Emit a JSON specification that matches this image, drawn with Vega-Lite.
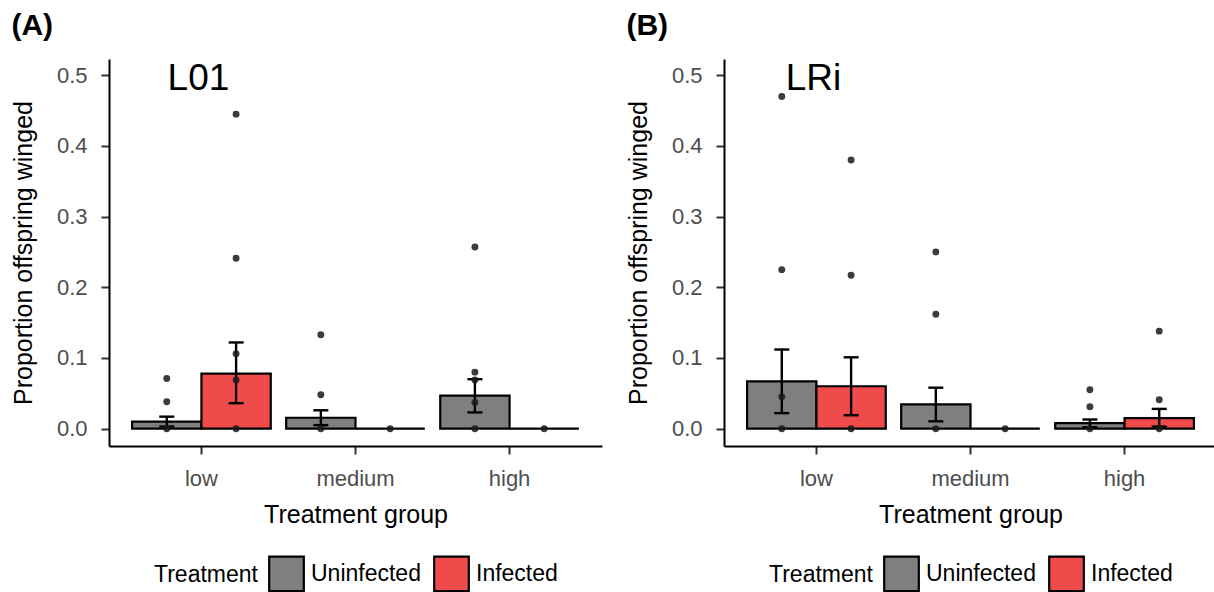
{
  "$schema": "https://vega.github.io/schema/vega-lite/v6.json",
  "padding": {"left": 11, "top": 11, "right": 0, "bottom": 0},
  "background": "white",
  "datasets": {
    "bars": [
      {"panel": "A", "group": "low", "treatment": "Uninfected", "mean": 0.010, "lo": 0.003, "hi": 0.017},
      {"panel": "A", "group": "low", "treatment": "Infected", "mean": 0.078, "lo": 0.036, "hi": 0.122},
      {"panel": "A", "group": "medium", "treatment": "Uninfected", "mean": 0.0155, "lo": 0.005, "hi": 0.026},
      {"panel": "A", "group": "medium", "treatment": "Infected", "mean": 0, "lo": null, "hi": null},
      {"panel": "A", "group": "high", "treatment": "Uninfected", "mean": 0.0467, "lo": 0.023, "hi": 0.070},
      {"panel": "A", "group": "high", "treatment": "Infected", "mean": 0, "lo": null, "hi": null},
      {"panel": "B", "group": "low", "treatment": "Uninfected", "mean": 0.067, "lo": 0.022, "hi": 0.112},
      {"panel": "B", "group": "low", "treatment": "Infected", "mean": 0.060, "lo": 0.019, "hi": 0.101},
      {"panel": "B", "group": "medium", "treatment": "Uninfected", "mean": 0.0345, "lo": 0.0104, "hi": 0.058},
      {"panel": "B", "group": "medium", "treatment": "Infected", "mean": 0, "lo": null, "hi": null},
      {"panel": "B", "group": "high", "treatment": "Uninfected", "mean": 0.008, "lo": 0.002, "hi": 0.013},
      {"panel": "B", "group": "high", "treatment": "Infected", "mean": 0.015, "lo": 0.003, "hi": 0.028}
    ],
    "points": [
      {"panel": "A", "group": "low", "treatment": "Uninfected", "value": 0.071},
      {"panel": "A", "group": "low", "treatment": "Uninfected", "value": 0.038},
      {"panel": "A", "group": "low", "treatment": "Uninfected", "value": 0},
      {"panel": "A", "group": "low", "treatment": "Infected", "value": 0.445},
      {"panel": "A", "group": "low", "treatment": "Infected", "value": 0.241},
      {"panel": "A", "group": "low", "treatment": "Infected", "value": 0.106},
      {"panel": "A", "group": "low", "treatment": "Infected", "value": 0.069},
      {"panel": "A", "group": "low", "treatment": "Infected", "value": 0},
      {"panel": "A", "group": "medium", "treatment": "Uninfected", "value": 0.133},
      {"panel": "A", "group": "medium", "treatment": "Uninfected", "value": 0.048},
      {"panel": "A", "group": "medium", "treatment": "Uninfected", "value": 0},
      {"panel": "A", "group": "medium", "treatment": "Infected", "value": 0},
      {"panel": "A", "group": "high", "treatment": "Uninfected", "value": 0.257},
      {"panel": "A", "group": "high", "treatment": "Uninfected", "value": 0.080},
      {"panel": "A", "group": "high", "treatment": "Uninfected", "value": 0.069},
      {"panel": "A", "group": "high", "treatment": "Uninfected", "value": 0.037},
      {"panel": "A", "group": "high", "treatment": "Uninfected", "value": 0},
      {"panel": "A", "group": "high", "treatment": "Infected", "value": 0},
      {"panel": "B", "group": "low", "treatment": "Uninfected", "value": 0.470},
      {"panel": "B", "group": "low", "treatment": "Uninfected", "value": 0.225},
      {"panel": "B", "group": "low", "treatment": "Uninfected", "value": 0.045},
      {"panel": "B", "group": "low", "treatment": "Uninfected", "value": 0},
      {"panel": "B", "group": "low", "treatment": "Infected", "value": 0.380},
      {"panel": "B", "group": "low", "treatment": "Infected", "value": 0.217},
      {"panel": "B", "group": "low", "treatment": "Infected", "value": 0},
      {"panel": "B", "group": "medium", "treatment": "Uninfected", "value": 0.250},
      {"panel": "B", "group": "medium", "treatment": "Uninfected", "value": 0.162},
      {"panel": "B", "group": "medium", "treatment": "Uninfected", "value": 0},
      {"panel": "B", "group": "medium", "treatment": "Infected", "value": 0},
      {"panel": "B", "group": "high", "treatment": "Uninfected", "value": 0.055},
      {"panel": "B", "group": "high", "treatment": "Uninfected", "value": 0.031},
      {"panel": "B", "group": "high", "treatment": "Uninfected", "value": 0},
      {"panel": "B", "group": "high", "treatment": "Infected", "value": 0.138},
      {"panel": "B", "group": "high", "treatment": "Infected", "value": 0.041},
      {"panel": "B", "group": "high", "treatment": "Infected", "value": 0}
    ],
    "labels": [
      {"panel": "A", "group": "low", "y": 0.479, "label": "L01"},
      {"panel": "B", "group": "low", "y": 0.479, "label": "LRi"}
    ]
  },
  "config": {
    "font": "Liberation Sans",
    "view": {"stroke": null},
    "axis": {
      "grid": false,
      "domainColor": "black",
      "domainWidth": 2,
      "tickColor": "#333333",
      "tickWidth": 2,
      "tickSize": 8,
      "labelColor": "#4d4d4d",
      "labelFontSize": 22,
      "labelFont": "Liberation Sans",
      "titleFont": "Liberation Sans",
      "titleFontSize": 25,
      "titleFontWeight": "normal",
      "titleColor": "black"
    },
    "legend": {
      "layout": {"bottom": {"anchor": "middle"}},
      "labelFont": "Liberation Sans",
      "titleFont": "Liberation Sans"
    },
    "title": {
      "anchor": "start",
      "frame": "bounds",
      "fontSize": 30,
      "fontWeight": "bold",
      "color": "black",
      "offset": 18,
      "font": "Liberation Sans"
    }
  },
  "spacing": 24,
  "resolve": {"scale": {"color": "independent"}, "legend": {"color": "independent"}},
  "hconcat": [
    {
      "title": {"text": "(A)"},
      "width": 493,
      "height": 387,
      "encoding": {
        "x": {"field": "group", "type": "nominal", "sort": ["low", "medium", "high"], "title": "Treatment group",
              "scale": {"paddingInner": 0.1, "paddingOuter": 0.15},
              "axis": {"labelAngle": 0, "labelPadding": 14, "titlePadding": 13}}
      },
      "layer": [
        {
          "data": {"name": "bars"},
          "transform": [{"filter": "datum.panel === 'A'"}],
          "mark": {"type": "bar", "stroke": "black", "strokeWidth": 2.2, "opacity": 1},
          "encoding": {
            "xOffset": {"field": "treatment", "type": "nominal", "sort": ["Uninfected", "Infected"], "scale": {"paddingInner": 0, "paddingOuter": 0}},
            "y": {"field": "mean", "type": "quantitative", "title": "Proportion offspring winged",
                  "scale": {"domain": [-0.0245, 0.523], "nice": false, "zero": false},
                  "axis": {"values": [0, 0.1, 0.2, 0.3, 0.4, 0.5], "format": ".1f", "labelPadding": 14, "titlePadding": 20}},
            "y2": {"datum": 0},
            "color": {"field": "treatment", "type": "nominal",
                      "scale": {"domain": ["Uninfected", "Infected"], "range": ["#7f7f7f", "#f04b4b"]},
                      "legend": {"title": "Treatment", "orient": "bottom", "direction": "horizontal", "titleOrient": "left",
                                 "titleFontSize": 23, "titleFontWeight": "normal", "titleColor": "black", "labelFontSize": 23, "labelColor": "black",
                                 "symbolType": "square", "symbolSize": 1200, "symbolStrokeColor": "black", "symbolStrokeWidth": 2.2, "symbolOpacity": 1,
                                 "labelOffset": 6, "columnPadding": 8, "titlePadding": 10, "offset": 28}}
          }
        },
        {
          "data": {"name": "bars"},
          "transform": [{"filter": "datum.panel === 'A' && datum.hi != null"}],
          "mark": {"type": "rule", "color": "black", "strokeWidth": 2.4},
          "encoding": {"xOffset": {"field": "treatment", "type": "nominal", "sort": ["Uninfected", "Infected"]}, "y": {"field": "lo", "type": "quantitative"}, "y2": {"field": "hi"}}
        },
        {
          "data": {"name": "bars"},
          "transform": [{"filter": "datum.panel === 'A' && datum.hi != null"}],
          "mark": {"type": "tick", "color": "black", "thickness": 2.4, "size": 15, "opacity": 1},
          "encoding": {"xOffset": {"field": "treatment", "type": "nominal", "sort": ["Uninfected", "Infected"]}, "y": {"field": "lo", "type": "quantitative"}}
        },
        {
          "data": {"name": "bars"},
          "transform": [{"filter": "datum.panel === 'A' && datum.hi != null"}],
          "mark": {"type": "tick", "color": "black", "thickness": 2.4, "size": 15, "opacity": 1},
          "encoding": {"xOffset": {"field": "treatment", "type": "nominal", "sort": ["Uninfected", "Infected"]}, "y": {"field": "hi", "type": "quantitative"}}
        },
        {
          "data": {"name": "points"},
          "transform": [{"filter": "datum.panel === 'A'"}],
          "mark": {"type": "circle", "color": "#1a1a1a", "opacity": 0.85, "size": 48},
          "encoding": {"xOffset": {"field": "treatment", "type": "nominal", "sort": ["Uninfected", "Infected"]}, "y": {"field": "value", "type": "quantitative"}}
        },
        {
          "data": {"name": "labels"},
          "transform": [{"filter": "datum.panel === 'A'"}],
          "mark": {"type": "text", "fontSize": 37, "baseline": "alphabetic", "align": "center", "dx": -3, "color": "black", "font": "Liberation Sans"},
          "encoding": {"y": {"field": "y", "type": "quantitative"}, "text": {"field": "label"}}
        }
      ]
    },
    {
      "title": {"text": "(B)"},
      "width": 493,
      "height": 387,
      "encoding": {
        "x": {"field": "group", "type": "nominal", "sort": ["low", "medium", "high"], "title": "Treatment group",
              "scale": {"paddingInner": 0.1, "paddingOuter": 0.15},
              "axis": {"labelAngle": 0, "labelPadding": 14, "titlePadding": 13}}
      },
      "layer": [
        {
          "data": {"name": "bars"},
          "transform": [{"filter": "datum.panel === 'B'"}],
          "mark": {"type": "bar", "stroke": "black", "strokeWidth": 2.2, "opacity": 1},
          "encoding": {
            "xOffset": {"field": "treatment", "type": "nominal", "sort": ["Uninfected", "Infected"], "scale": {"paddingInner": 0, "paddingOuter": 0}},
            "y": {"field": "mean", "type": "quantitative", "title": "Proportion offspring winged",
                  "scale": {"domain": [-0.0245, 0.523], "nice": false, "zero": false},
                  "axis": {"values": [0, 0.1, 0.2, 0.3, 0.4, 0.5], "format": ".1f", "labelPadding": 14, "titlePadding": 20}},
            "y2": {"datum": 0},
            "color": {"field": "treatment", "type": "nominal",
                      "scale": {"domain": ["Uninfected", "Infected"], "range": ["#7f7f7f", "#f04b4b"]},
                      "legend": {"title": "Treatment", "orient": "bottom", "direction": "horizontal", "titleOrient": "left",
                                 "titleFontSize": 23, "titleFontWeight": "normal", "titleColor": "black", "labelFontSize": 23, "labelColor": "black",
                                 "symbolType": "square", "symbolSize": 1200, "symbolStrokeColor": "black", "symbolStrokeWidth": 2.2, "symbolOpacity": 1,
                                 "labelOffset": 6, "columnPadding": 8, "titlePadding": 10, "offset": 28}}
          }
        },
        {
          "data": {"name": "bars"},
          "transform": [{"filter": "datum.panel === 'B' && datum.hi != null"}],
          "mark": {"type": "rule", "color": "black", "strokeWidth": 2.4},
          "encoding": {"xOffset": {"field": "treatment", "type": "nominal", "sort": ["Uninfected", "Infected"]}, "y": {"field": "lo", "type": "quantitative"}, "y2": {"field": "hi"}}
        },
        {
          "data": {"name": "bars"},
          "transform": [{"filter": "datum.panel === 'B' && datum.hi != null"}],
          "mark": {"type": "tick", "color": "black", "thickness": 2.4, "size": 15, "opacity": 1},
          "encoding": {"xOffset": {"field": "treatment", "type": "nominal", "sort": ["Uninfected", "Infected"]}, "y": {"field": "lo", "type": "quantitative"}}
        },
        {
          "data": {"name": "bars"},
          "transform": [{"filter": "datum.panel === 'B' && datum.hi != null"}],
          "mark": {"type": "tick", "color": "black", "thickness": 2.4, "size": 15, "opacity": 1},
          "encoding": {"xOffset": {"field": "treatment", "type": "nominal", "sort": ["Uninfected", "Infected"]}, "y": {"field": "hi", "type": "quantitative"}}
        },
        {
          "data": {"name": "points"},
          "transform": [{"filter": "datum.panel === 'B'"}],
          "mark": {"type": "circle", "color": "#1a1a1a", "opacity": 0.85, "size": 48},
          "encoding": {"xOffset": {"field": "treatment", "type": "nominal", "sort": ["Uninfected", "Infected"]}, "y": {"field": "value", "type": "quantitative"}}
        },
        {
          "data": {"name": "labels"},
          "transform": [{"filter": "datum.panel === 'B'"}],
          "mark": {"type": "text", "fontSize": 37, "baseline": "alphabetic", "align": "center", "dx": -3, "color": "black", "font": "Liberation Sans"},
          "encoding": {"y": {"field": "y", "type": "quantitative"}, "text": {"field": "label"}}
        }
      ]
    }
  ]
}
